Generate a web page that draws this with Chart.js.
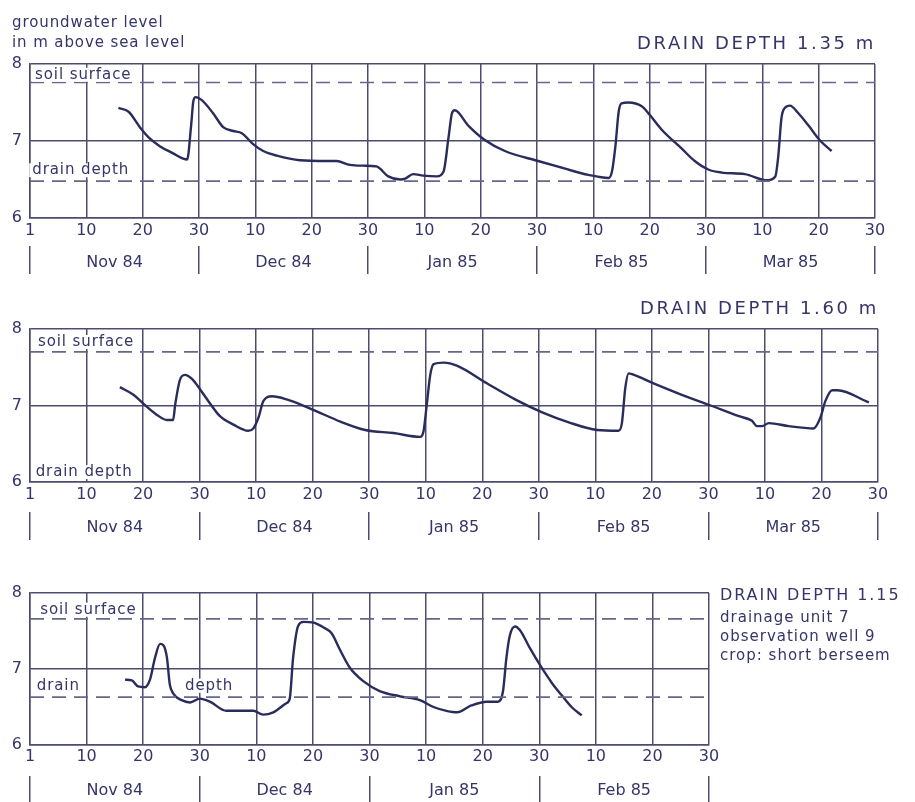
<!DOCTYPE html>
<html><head><meta charset="utf-8">
<script src="https://cdn.jsdelivr.net/npm/chart.js@4.4.1/dist/chart.umd.min.js"></script>
<style>
body{margin:0;background:#fff;width:915px;height:802px;overflow:hidden;position:relative;font-family:"DejaVu Sans",sans-serif;color:#35356a}
canvas{position:absolute;left:0}
.t{position:absolute;white-space:nowrap}
</style></head><body>
<canvas id="c1" width="915" height="280" style="top:0"></canvas>
<canvas id="c2" width="915" height="265" style="top:280px"></canvas>
<canvas id="c3" width="915" height="257" style="top:545px"></canvas>
<div class="t" style="left:12px;top:12px;font-size:15px;line-height:20px;letter-spacing:0.9px">groundwater level<br>in m above sea level</div>
<div class="t" style="right:39px;top:32px;font-size:18px;line-height:22px;letter-spacing:2.6px">DRAIN DEPTH 1.35 m</div>
<div class="t" style="right:36px;top:297px;font-size:18px;line-height:22px;letter-spacing:2.6px">DRAIN DEPTH 1.60 m</div>
<div class="t" style="left:720px;top:585px;font-size:16px;line-height:20px;letter-spacing:1.9px">DRAIN DEPTH 1.15</div>
<div class="t" style="left:720px;top:608px;font-size:15px;line-height:19px;letter-spacing:1px">drainage unit 7<br>observation well 9<br>crop: short berseem</div>
<script>
// ---- tick labels ----
const dayTickPos = [0,10,20,30,40,50,60,70,80,90,100,110,120,130,140,150];
const dayTickLabels = ['1','10','20','30','10','20','30','10','20','30','10','20','30','10','20','30'];
const monthLabels = ['Nov 84','Dec 84','Jan 85','Feb 85','Mar 85'];

// ---- panel 1: drain depth 1.35 m ----
const p1Days = [15.7,17.5,19.5,21.3,23.1,25.4,27.2,27.9,28.6,29.0,29.4,30.5,32.5,34.3,36.1,37.6,39.6,41.4,43.8,47.9,52.7,54.4,56.8,59.2,61.5,63.6,65.7,66.6,68.0,69.8,72.2,73.4,74.3,74.9,75.4,77.8,80.6,84.3,90.2,95.0,99.1,102.7,103.3,103.9,104.5,105.0,106.2,108.6,110.0,112.1,115.7,118.0,120.4,122.8,126.9,130.8,132.3,132.8,133.4,134.0,134.9,136.4,138.2,140.2,142.3];
const p1Level = [7.43,7.38,7.18,7.03,6.93,6.84,6.77,6.76,7.20,7.52,7.57,7.53,7.36,7.18,7.13,7.10,6.96,6.87,6.81,6.75,6.74,6.74,6.69,6.68,6.67,6.54,6.50,6.51,6.57,6.55,6.54,6.60,7.05,7.36,7.40,7.20,7.02,6.87,6.74,6.64,6.56,6.52,6.60,6.92,7.38,7.49,7.50,7.45,7.34,7.15,6.90,6.74,6.63,6.59,6.57,6.49,6.54,6.78,7.30,7.43,7.46,7.36,7.20,7.01,6.87];
const p1Soil = 7.76;
const p1Drain = 6.48;

// ---- panel 2: drain depth 1.60 m ----
const p2Days = [15.9,18.3,20.1,22.4,24.2,25.3,25.7,26.5,27.4,28.6,30.1,31.9,33.6,36.0,38.6,39.5,40.4,41.3,42.8,45.4,49.9,54.9,59.3,64.3,69.0,69.6,70.2,70.8,71.4,73.2,75.5,80.8,85.8,90.6,95.3,100.3,104.1,104.7,105.3,105.9,106.5,110.3,115.3,120.4,125.4,127.7,128.6,129.5,130.7,134.2,138.6,139.8,140.7,141.9,142.8,148.4];
const p2Level = [7.24,7.14,7.02,6.88,6.81,6.81,7.02,7.33,7.40,7.35,7.21,7.02,6.86,6.75,6.67,6.70,6.84,7.06,7.12,7.08,6.95,6.79,6.68,6.64,6.59,6.66,7.02,7.40,7.54,7.56,7.52,7.29,7.08,6.91,6.78,6.68,6.67,6.77,7.23,7.42,7.41,7.29,7.14,7.00,6.86,6.80,6.73,6.73,6.77,6.73,6.70,6.84,7.06,7.20,7.20,7.04];
const p2Soil = 7.70;

// ---- panel 3: drain depth 1.15 m ----
const p3Days = [16.8,18.0,19.1,20.3,21.2,22.1,23.0,23.6,24.2,24.7,25.3,26.8,28.3,30.0,31.8,34.7,37.7,39.5,41.2,43.0,45.3,45.9,46.5,47.4,48.3,50.1,51.8,53.3,54.8,56.5,58.9,61.8,65.4,68.9,71.3,73.6,75.5,78.0,80.7,82.7,83.6,84.2,84.8,85.7,86.6,88.3,90.4,92.2,93.9,95.7,97.5];
const p3Level = [6.86,6.85,6.77,6.76,6.86,7.15,7.33,7.31,7.15,6.80,6.68,6.59,6.56,6.61,6.57,6.45,6.45,6.45,6.40,6.43,6.55,6.61,7.15,7.57,7.62,7.61,7.55,7.47,7.25,7.02,6.84,6.71,6.64,6.59,6.50,6.45,6.43,6.52,6.57,6.57,6.71,7.15,7.44,7.56,7.51,7.28,7.02,6.82,6.66,6.50,6.39];
const p3Soil = 7.66;
const p3Drain = 6.63;

const TEXT = '#35356a', GRID = '#4c4d6e', CURVE = '#2a2c5c', DASH = '#66678a';
const FONT = 'DejaVu Sans';

const insideLabels = {
  id: 'insideLabels',
  afterDatasetsDraw(chart, args, opts) {
    const ctx = chart.ctx, xs = chart.scales.x, ys = chart.scales.y;
    ctx.save();
    ctx.font = '15px "' + FONT + '"';
    if ('letterSpacing' in ctx) ctx.letterSpacing = '0.9px';
    ctx.textBaseline = 'middle';
    ctx.textAlign = 'left';
    (opts.items || []).forEach(it => {
      const px = xs.getPixelForValue(it.x), py = ys.getPixelForValue(it.y);
      const w = ctx.measureText(it.text).width;
      ctx.fillStyle = '#fff';
      ctx.fillRect(px - 3, py - 7, w + 6, 14);
      ctx.fillStyle = TEXT;
      ctx.fillText(it.text, px, py);
    });
    ctx.restore();
  }
};

function makePanel(id, o) {
  const xmax = o.xmax;
  const nT = xmax / 10 + 1;
  const datasets = [];
  o.refs.forEach(r => datasets.push({data: [{x: 0, y: r}, {x: xmax, y: r}], borderColor: DASH, borderWidth: 1.7, borderDash: [14, 8], pointRadius: 0, tension: 0}));
  datasets.push({data: o.days.map((d, i) => ({x: d, y: o.level[i]})), borderColor: CURVE, borderWidth: 2.4, pointRadius: 0, cubicInterpolationMode: 'monotone'});
  const mTicks = [];
  for (let v = 0; v <= xmax; v += 15) mTicks.push(v);
  new Chart(document.getElementById(id), {
    type: 'line',
    data: {datasets},
    plugins: [insideLabels],
    options: {
      responsive: false, animation: false, events: [],
      layout: {padding: {top: o.padTop, right: o.padRight, left: 0, bottom: 0}},
      plugins: {legend: {display: false}, tooltip: {enabled: false}, insideLabels: {items: o.labels}},
      scales: {
        x: {
          type: 'linear', min: 0, max: xmax, position: 'bottom', weight: 0,
          afterBuildTicks: s => { s.ticks = dayTickPos.slice(0, nT).map(v => ({value: v})); },
          afterFit: s => { s.height = o.dH; },
          ticks: {autoSkip: false, maxRotation: 0, padding: o.dPad, color: TEXT, font: {family: FONT, size: 16},
                  callback: (v, i) => dayTickLabels[i]},
          grid: {color: GRID, lineWidth: 1.5, drawTicks: false},
          border: {display: true, color: GRID, width: 1.5}
        },
        m: {
          type: 'linear', min: 0, max: xmax, position: 'bottom', weight: 1,
          afterBuildTicks: s => { s.ticks = mTicks.map(v => ({value: v})); },
          afterFit: s => { s.height = o.mH; },
          ticks: {autoSkip: false, maxRotation: 0, padding: o.mPad, color: TEXT, font: {family: FONT, size: 16},
                  callback: v => (v % 30 === 15 ? monthLabels[(v - 15) / 30] : '')},
          grid: {drawOnChartArea: false, drawTicks: true, tickLength: o.sepLen, lineWidth: 1.5,
                 color: c => (c.tick && c.tick.value % 30 === 0 ? GRID : 'rgba(0,0,0,0)')},
          border: {display: false}
        },
        y: {
          type: 'linear', min: 6, max: 8,
          afterFit: s => { s.width = 30; },
          ticks: {stepSize: 1, padding: 8, color: TEXT, font: {family: FONT, size: 16}},
          grid: {color: GRID, lineWidth: 1.5, drawTicks: false},
          border: {display: true, color: GRID, width: 1.5}
        }
      }
    }
  });
}

makePanel('c1', {xmax: 150, days: p1Days, level: p1Level, refs: [p1Soil, p1Drain],
  padTop: 64, padRight: 40, dH: 28, mH: 34, dPad: 3, mPad: -21, sepLen: 28,
  labels: [{text: 'soil surface', x: 0.9, y: 7.86}, {text: 'drain depth', x: 0.4, y: 6.62}]});
makePanel('c2', {xmax: 150, days: p2Days, level: p2Level, refs: [p2Soil],
  padTop: 49, padRight: 37, dH: 30, mH: 33, dPad: 3, mPad: -22, sepLen: 28,
  labels: [{text: 'soil surface', x: 1.4, y: 7.83}, {text: 'drain depth', x: 1.0, y: 6.13}]});
makePanel('c3', {xmax: 120, days: p3Days, level: p3Level, refs: [p3Soil, p3Drain],
  padTop: 48, padRight: 206, dH: 31, mH: 26, dPad: 2, mPad: -21, sepLen: 26,
  labels: [{text: 'soil surface', x: 1.8, y: 7.78}, {text: 'drain', x: 1.2, y: 6.78}, {text: 'depth', x: 27.4, y: 6.78}]});
</script>
</body></html>
